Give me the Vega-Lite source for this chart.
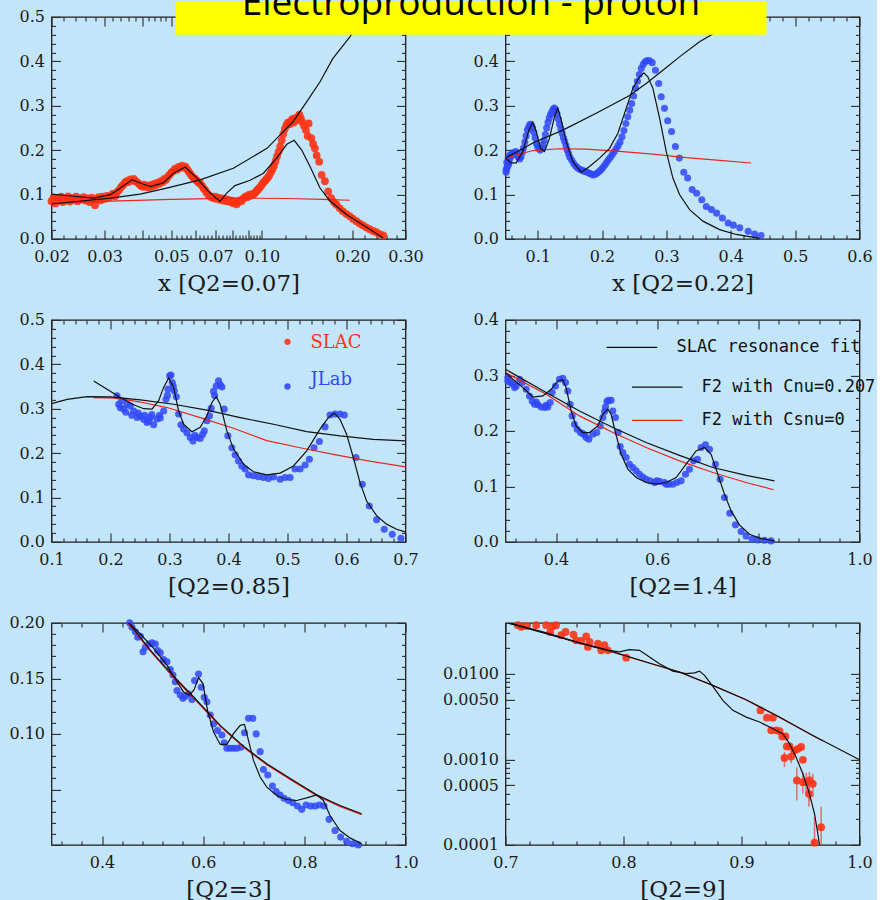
{
"$schema":"https://vega.github.io/schema/vega-lite/v6.json",
"background":"#c3e5fa",
"padding":{"left":7.5,"top":-16.1,"right":0,"bottom":0},
"config":{
 "view":{"stroke":"#1e1e1e","strokeWidth":1.3},
 "axis":{"grid":false,"domain":false,"labelFont":"DejaVu Serif","labelFontSize":16,"labelColor":"#1a1a1a","labelPadding":7,"labelFlush":false,"labelOverlap":false,"tickColor":"#2a2a2a","tickWidth":1.1,"titleFont":"DejaVu Serif","titleFontSize":23,"titleFontWeight":"normal","titleColor":"#1a1a1a","titlePadding":8}
},
"datasets":{
"a1":[{"x":0.0200,"y":0.085},{"x":0.0203,"y":0.093},{"x":0.0206,"y":0.080},{"x":0.0209,"y":0.090},{"x":0.0212,"y":0.086},{"x":0.0215,"y":0.095},{"x":0.0218,"y":0.083},{"x":0.0221,"y":0.091},{"x":0.0224,"y":0.087},{"x":0.0227,"y":0.096},{"x":0.0230,"y":0.084},{"x":0.0234,"y":0.091},{"x":0.0237,"y":0.088},{"x":0.0241,"y":0.095},{"x":0.0244,"y":0.085},{"x":0.0248,"y":0.092},{"x":0.0252,"y":0.089},{"x":0.0256,"y":0.094},{"x":0.0260,"y":0.086},{"x":0.0264,"y":0.091},{"x":0.0268,"y":0.083},{"x":0.0272,"y":0.093},{"x":0.0276,"y":0.088},{"x":0.0279,"y":0.076},{"x":0.0283,"y":0.090},{"x":0.0287,"y":0.094},{"x":0.0291,"y":0.087},{"x":0.0296,"y":0.095},{"x":0.0300,"y":0.090},{"x":0.0305,"y":0.097},{"x":0.0310,"y":0.093},{"x":0.0315,"y":0.098},{"x":0.0320,"y":0.102},{"x":0.0325,"y":0.096},{"x":0.0330,"y":0.105},{"x":0.0335,"y":0.110},{"x":0.0340,"y":0.116},{"x":0.0345,"y":0.121},{"x":0.0350,"y":0.126},{"x":0.0355,"y":0.130},{"x":0.0360,"y":0.128},{"x":0.0365,"y":0.134},{"x":0.0370,"y":0.131},{"x":0.0375,"y":0.135},{"x":0.0380,"y":0.130},{"x":0.0385,"y":0.128},{"x":0.0390,"y":0.124},{"x":0.0395,"y":0.121},{"x":0.0400,"y":0.118},{"x":0.0405,"y":0.122},{"x":0.0410,"y":0.117},{"x":0.0415,"y":0.120},{"x":0.0420,"y":0.116},{"x":0.0426,"y":0.121},{"x":0.0432,"y":0.118},{"x":0.0438,"y":0.124},{"x":0.0444,"y":0.121},{"x":0.0450,"y":0.127},{"x":0.0456,"y":0.124},{"x":0.0462,"y":0.130},{"x":0.0468,"y":0.128},{"x":0.0474,"y":0.135},{"x":0.0480,"y":0.133},{"x":0.0487,"y":0.140},{"x":0.0494,"y":0.145},{"x":0.0501,"y":0.150},{"x":0.0508,"y":0.153},{"x":0.0515,"y":0.158},{"x":0.0522,"y":0.156},{"x":0.0529,"y":0.162},{"x":0.0536,"y":0.160},{"x":0.0543,"y":0.165},{"x":0.0550,"y":0.161},{"x":0.0557,"y":0.163},{"x":0.0564,"y":0.157},{"x":0.0571,"y":0.152},{"x":0.0578,"y":0.147},{"x":0.0585,"y":0.142},{"x":0.0592,"y":0.138},{"x":0.0600,"y":0.136},{"x":0.0608,"y":0.131},{"x":0.0616,"y":0.127},{"x":0.0624,"y":0.125},{"x":0.0632,"y":0.120},{"x":0.0640,"y":0.114},{"x":0.0648,"y":0.110},{"x":0.0656,"y":0.104},{"x":0.0664,"y":0.100},{"x":0.0672,"y":0.097},{"x":0.0680,"y":0.094},{"x":0.0689,"y":0.092},{"x":0.0698,"y":0.095},{"x":0.0707,"y":0.090},{"x":0.0716,"y":0.093},{"x":0.0725,"y":0.088},{"x":0.0735,"y":0.091},{"x":0.0745,"y":0.086},{"x":0.0755,"y":0.090},{"x":0.0765,"y":0.085},{"x":0.0775,"y":0.088},{"x":0.0785,"y":0.083},{"x":0.0795,"y":0.086},{"x":0.0805,"y":0.080},{"x":0.0815,"y":0.084},{"x":0.0825,"y":0.078},{"x":0.0835,"y":0.083},{"x":0.0845,"y":0.087},{"x":0.0855,"y":0.085},{"x":0.0865,"y":0.090},{"x":0.0875,"y":0.093},{"x":0.0885,"y":0.096},{"x":0.0895,"y":0.094},{"x":0.0905,"y":0.099},{"x":0.0915,"y":0.097},{"x":0.0925,"y":0.101},{"x":0.0937,"y":0.100},{"x":0.0949,"y":0.104},{"x":0.0961,"y":0.108},{"x":0.0973,"y":0.112},{"x":0.0985,"y":0.116},{"x":0.0997,"y":0.121},{"x":0.1009,"y":0.126},{"x":0.1021,"y":0.130},{"x":0.1033,"y":0.134},{"x":0.1045,"y":0.138},{"x":0.1058,"y":0.143},{"x":0.1071,"y":0.150},{"x":0.1084,"y":0.157},{"x":0.1097,"y":0.165},{"x":0.1110,"y":0.175},{"x":0.1123,"y":0.186},{"x":0.1136,"y":0.196},{"x":0.1150,"y":0.208},{"x":0.1164,"y":0.222},{"x":0.1178,"y":0.236},{"x":0.1192,"y":0.248},{"x":0.1206,"y":0.256},{"x":0.1220,"y":0.262},{"x":0.1234,"y":0.258},{"x":0.1248,"y":0.266},{"x":0.1262,"y":0.270},{"x":0.1276,"y":0.262},{"x":0.1290,"y":0.272},{"x":0.1304,"y":0.268},{"x":0.1318,"y":0.275},{"x":0.1332,"y":0.280},{"x":0.1346,"y":0.272},{"x":0.1360,"y":0.264},{"x":0.1380,"y":0.255},{"x":0.1400,"y":0.245},{"x":0.1420,"y":0.232},{"x":0.1430,"y":0.260},{"x":0.1460,"y":0.227},{"x":0.1480,"y":0.214},{"x":0.1500,"y":0.204},{"x":0.1520,"y":0.188},{"x":0.1550,"y":0.174},{"x":0.1580,"y":0.144},{"x":0.1620,"y":0.130},{"x":0.1660,"y":0.107},{"x":0.1700,"y":0.092},{"x":0.1735,"y":0.083},{"x":0.1770,"y":0.077},{"x":0.1815,"y":0.069},{"x":0.1860,"y":0.062},{"x":0.1910,"y":0.056},{"x":0.1960,"y":0.051},{"x":0.2010,"y":0.045},{"x":0.2060,"y":0.040},{"x":0.2110,"y":0.035},{"x":0.2160,"y":0.031},{"x":0.2220,"y":0.026},{"x":0.2280,"y":0.022},{"x":0.2340,"y":0.018},{"x":0.2400,"y":0.015},{"x":0.2465,"y":0.011},{"x":0.2530,"y":0.008}],
"a1r":[{"x":0.02,"y":0.101},{"x":0.0237,"y":0.096},{"x":0.0276,"y":0.092},{"x":0.0314,"y":0.0996},{"x":0.0339,"y":0.1145},{"x":0.037,"y":0.133},{"x":0.0394,"y":0.126},{"x":0.0426,"y":0.118},{"x":0.0471,"y":0.126},{"x":0.0509,"y":0.148},{"x":0.0556,"y":0.162},{"x":0.0608,"y":0.137},{"x":0.0664,"y":0.107},{"x":0.0726,"y":0.0846},{"x":0.0764,"y":0.103},{"x":0.0814,"y":0.12},{"x":0.0914,"y":0.132},{"x":0.1012,"y":0.148},{"x":0.112,"y":0.182},{"x":0.121,"y":0.213},{"x":0.128,"y":0.222},{"x":0.1356,"y":0.2},{"x":0.1445,"y":0.163},{"x":0.156,"y":0.1145},{"x":0.168,"y":0.086},{"x":0.191,"y":0.055},{"x":0.222,"y":0.027},{"x":0.253,"y":0.002}],
"a1f":[{"x":0.02,"y":0.0786},{"x":0.0314,"y":0.092},{"x":0.0394,"y":0.101},{"x":0.0483,"y":0.1145},{"x":0.0623,"y":0.133},{"x":0.0804,"y":0.159},{"x":0.104,"y":0.204},{"x":0.127,"y":0.264},{"x":0.141,"y":0.309},{"x":0.156,"y":0.354},{"x":0.172,"y":0.406},{"x":0.196,"y":0.455},{"x":0.222,"y":0.515}],
"a1c":[{"x":0.02,"y":0.08},{"x":0.0314,"y":0.085},{"x":0.05,"y":0.089},{"x":0.08,"y":0.092},{"x":0.12,"y":0.091},{"x":0.16,"y":0.089},{"x":0.196,"y":0.087}],
"a2":[{"x":0.051,"y":0.156},{"x":0.051,"y":0.150},{"x":0.052,"y":0.172},{"x":0.0525,"y":0.160},{"x":0.053,"y":0.165},{"x":0.054,"y":0.180},{"x":0.055,"y":0.175},{"x":0.055,"y":0.168},{"x":0.056,"y":0.186},{"x":0.057,"y":0.181},{"x":0.058,"y":0.190},{"x":0.060,"y":0.188},{"x":0.062,"y":0.194},{"x":0.064,"y":0.192},{"x":0.066,"y":0.197},{"x":0.068,"y":0.190},{"x":0.070,"y":0.184},{"x":0.072,"y":0.180},{"x":0.074,"y":0.185},{"x":0.076,"y":0.195},{"x":0.078,"y":0.205},{"x":0.080,"y":0.218},{"x":0.082,"y":0.232},{"x":0.084,"y":0.245},{"x":0.086,"y":0.252},{"x":0.088,"y":0.258},{"x":0.090,"y":0.256},{"x":0.092,"y":0.250},{"x":0.094,"y":0.240},{"x":0.096,"y":0.228},{"x":0.098,"y":0.215},{"x":0.100,"y":0.208},{"x":0.102,"y":0.203},{"x":0.104,"y":0.200},{"x":0.106,"y":0.204},{"x":0.108,"y":0.212},{"x":0.110,"y":0.222},{"x":0.112,"y":0.235},{"x":0.114,"y":0.250},{"x":0.116,"y":0.262},{"x":0.118,"y":0.272},{"x":0.120,"y":0.280},{"x":0.122,"y":0.286},{"x":0.124,"y":0.292},{"x":0.126,"y":0.295},{"x":0.128,"y":0.290},{"x":0.130,"y":0.282},{"x":0.132,"y":0.270},{"x":0.134,"y":0.258},{"x":0.136,"y":0.248},{"x":0.138,"y":0.238},{"x":0.140,"y":0.228},{"x":0.142,"y":0.220},{"x":0.144,"y":0.210},{"x":0.146,"y":0.200},{"x":0.148,"y":0.192},{"x":0.150,"y":0.184},{"x":0.153,"y":0.177},{"x":0.156,"y":0.170},{"x":0.159,"y":0.164},{"x":0.162,"y":0.160},{"x":0.165,"y":0.157},{"x":0.168,"y":0.155},{"x":0.171,"y":0.153},{"x":0.174,"y":0.152},{"x":0.177,"y":0.150},{"x":0.180,"y":0.148},{"x":0.183,"y":0.146},{"x":0.186,"y":0.144},{"x":0.189,"y":0.145},{"x":0.192,"y":0.148},{"x":0.195,"y":0.151},{"x":0.198,"y":0.155},{"x":0.201,"y":0.160},{"x":0.204,"y":0.166},{"x":0.207,"y":0.172},{"x":0.210,"y":0.178},{"x":0.213,"y":0.184},{"x":0.216,"y":0.190},{"x":0.219,"y":0.196},{"x":0.222,"y":0.203},{"x":0.225,"y":0.210},{"x":0.228,"y":0.218},{"x":0.231,"y":0.230},{"x":0.234,"y":0.244},{"x":0.237,"y":0.260},{"x":0.240,"y":0.275},{"x":0.243,"y":0.290},{"x":0.246,"y":0.305},{"x":0.249,"y":0.322},{"x":0.252,"y":0.340},{"x":0.255,"y":0.355},{"x":0.258,"y":0.370},{"x":0.261,"y":0.384},{"x":0.264,"y":0.393},{"x":0.267,"y":0.399},{"x":0.270,"y":0.402},{"x":0.274,"y":0.401},{"x":0.278,"y":0.397},{"x":0.283,"y":0.380},{"x":0.288,"y":0.350},{"x":0.292,"y":0.320},{"x":0.297,"y":0.294},{"x":0.302,"y":0.266},{"x":0.308,"y":0.242},{"x":0.314,"y":0.208},{"x":0.320,"y":0.182},{"x":0.327,"y":0.150},{"x":0.333,"y":0.137},{"x":0.340,"y":0.111},{"x":0.347,"y":0.103},{"x":0.355,"y":0.088},{"x":0.362,"y":0.073},{"x":0.370,"y":0.066},{"x":0.378,"y":0.058},{"x":0.387,"y":0.047},{"x":0.396,"y":0.036},{"x":0.404,"y":0.031},{"x":0.414,"y":0.025},{"x":0.427,"y":0.017},{"x":0.437,"y":0.011},{"x":0.447,"y":0.0075}],
"a2r":[{"x":0.05,"y":0.182},{"x":0.0588,"y":0.171},{"x":0.0666,"y":0.171},{"x":0.0769,"y":0.197},{"x":0.0863,"y":0.245},{"x":0.0925,"y":0.263},{"x":0.0977,"y":0.242},{"x":0.1044,"y":0.204},{"x":0.1106,"y":0.197},{"x":0.1184,"y":0.227},{"x":0.1261,"y":0.275},{"x":0.1313,"y":0.294},{"x":0.1365,"y":0.268},{"x":0.1443,"y":0.219},{"x":0.1546,"y":0.174},{"x":0.1676,"y":0.15},{"x":0.1805,"y":0.163},{"x":0.1961,"y":0.182},{"x":0.2117,"y":0.204},{"x":0.2246,"y":0.238},{"x":0.2375,"y":0.294},{"x":0.2479,"y":0.339},{"x":0.2583,"y":0.365},{"x":0.265,"y":0.374},{"x":0.2712,"y":0.365},{"x":0.279,"y":0.339},{"x":0.2894,"y":0.272},{"x":0.2997,"y":0.197},{"x":0.3101,"y":0.137},{"x":0.3204,"y":0.1},{"x":0.336,"y":0.066},{"x":0.3567,"y":0.04},{"x":0.3826,"y":0.021},{"x":0.4085,"y":0.01},{"x":0.4447,"y":0.001}],
"a2f":[{"x":0.05,"y":0.182},{"x":0.0925,"y":0.216},{"x":0.1391,"y":0.245},{"x":0.1909,"y":0.283},{"x":0.2427,"y":0.323},{"x":0.2686,"y":0.35},{"x":0.2945,"y":0.38},{"x":0.3204,"y":0.41},{"x":0.3515,"y":0.444},{"x":0.3774,"y":0.466},{"x":0.4085,"y":0.5},{"x":0.43,"y":0.52}],
"a2c":[{"x":0.05,"y":0.182},{"x":0.0925,"y":0.199},{"x":0.1339,"y":0.203},{"x":0.1754,"y":0.202},{"x":0.2272,"y":0.197},{"x":0.279,"y":0.191},{"x":0.3308,"y":0.183},{"x":0.3826,"y":0.177},{"x":0.4318,"y":0.171}],
"ttl":[{"t":"Electroproduction - proton","x1":-0.4627,"x2":0.4555,"y1":0.46,"y2":0.5345,"tx":-0.0036,"ty":0.504}],
"a3":[{"x":0.2111,"y":0.329},{"x":0.2139,"y":0.31},{"x":0.2167,"y":0.302},{"x":0.219,"y":0.318},{"x":0.2224,"y":0.299},{"x":0.226,"y":0.292},{"x":0.228,"y":0.31},{"x":0.2337,"y":0.306},{"x":0.236,"y":0.285},{"x":0.2393,"y":0.295},{"x":0.245,"y":0.28},{"x":0.247,"y":0.29},{"x":0.2506,"y":0.283},{"x":0.2562,"y":0.276},{"x":0.258,"y":0.285},{"x":0.2619,"y":0.269},{"x":0.265,"y":0.272},{"x":0.2675,"y":0.28},{"x":0.27,"y":0.287},{"x":0.2731,"y":0.264},{"x":0.2788,"y":0.277},{"x":0.283,"y":0.285},{"x":0.2844,"y":0.279},{"x":0.2901,"y":0.295},{"x":0.294,"y":0.321},{"x":0.2965,"y":0.33},{"x":0.2974,"y":0.344},{"x":0.3002,"y":0.374},{"x":0.3025,"y":0.376},{"x":0.3047,"y":0.359},{"x":0.3065,"y":0.35},{"x":0.3081,"y":0.34},{"x":0.3115,"y":0.327},{"x":0.3154,"y":0.288},{"x":0.3194,"y":0.264},{"x":0.3239,"y":0.254},{"x":0.3295,"y":0.246},{"x":0.3352,"y":0.235},{"x":0.3397,"y":0.227},{"x":0.343,"y":0.24},{"x":0.3465,"y":0.235},{"x":0.3521,"y":0.233},{"x":0.356,"y":0.242},{"x":0.3589,"y":0.25},{"x":0.3634,"y":0.273},{"x":0.3679,"y":0.284},{"x":0.3707,"y":0.301},{"x":0.3747,"y":0.339},{"x":0.3765,"y":0.33},{"x":0.3792,"y":0.351},{"x":0.3831,"y":0.363},{"x":0.386,"y":0.354},{"x":0.3888,"y":0.349},{"x":0.3927,"y":0.299},{"x":0.3989,"y":0.239},{"x":0.4057,"y":0.212},{"x":0.4113,"y":0.196},{"x":0.417,"y":0.182},{"x":0.4226,"y":0.171},{"x":0.4282,"y":0.164},{"x":0.4339,"y":0.151},{"x":0.4423,"y":0.149},{"x":0.4508,"y":0.147},{"x":0.4593,"y":0.145},{"x":0.4677,"y":0.143},{"x":0.4762,"y":0.146},{"x":0.4875,"y":0.141},{"x":0.4959,"y":0.145},{"x":0.5044,"y":0.145},{"x":0.5128,"y":0.164},{"x":0.5213,"y":0.164},{"x":0.5298,"y":0.173},{"x":0.5371,"y":0.186},{"x":0.545,"y":0.212},{"x":0.554,"y":0.226},{"x":0.5636,"y":0.259},{"x":0.5721,"y":0.286},{"x":0.5805,"y":0.288},{"x":0.589,"y":0.288},{"x":0.5963,"y":0.286},{"x":0.6161,"y":0.19},{"x":0.6268,"y":0.13},{"x":0.6386,"y":0.081},{"x":0.651,"y":0.05},{"x":0.664,"y":0.0285},{"x":0.6775,"y":0.017},{"x":0.6922,"y":0.008}],
"a3r":[{"x":0.1716,"y":0.3626},{"x":0.1942,"y":0.344},{"x":0.2167,"y":0.325},{"x":0.2393,"y":0.309},{"x":0.2562,"y":0.3},{"x":0.2703,"y":0.299},{"x":0.2816,"y":0.318},{"x":0.2901,"y":0.348},{"x":0.2985,"y":0.369},{"x":0.307,"y":0.348},{"x":0.3154,"y":0.295},{"x":0.3239,"y":0.265},{"x":0.338,"y":0.248},{"x":0.3521,"y":0.258},{"x":0.3634,"y":0.284},{"x":0.3718,"y":0.314},{"x":0.3792,"y":0.327},{"x":0.3859,"y":0.31},{"x":0.3972,"y":0.25},{"x":0.4085,"y":0.209},{"x":0.4254,"y":0.175},{"x":0.4423,"y":0.158},{"x":0.4649,"y":0.151},{"x":0.4875,"y":0.155},{"x":0.51,"y":0.171},{"x":0.5326,"y":0.205},{"x":0.5551,"y":0.254},{"x":0.5692,"y":0.28},{"x":0.5794,"y":0.29},{"x":0.589,"y":0.276},{"x":0.6003,"y":0.242},{"x":0.6115,"y":0.19},{"x":0.6228,"y":0.134},{"x":0.6341,"y":0.092},{"x":0.651,"y":0.059},{"x":0.6679,"y":0.04},{"x":0.6849,"y":0.0285},{"x":0.699,"y":0.0225}],
"a3f":[{"x":0.1,"y":0.3116},{"x":0.1265,"y":0.321},{"x":0.1603,"y":0.327},{"x":0.1998,"y":0.3266},{"x":0.2506,"y":0.32},{"x":0.307,"y":0.31},{"x":0.3634,"y":0.2966},{"x":0.4198,"y":0.28},{"x":0.4762,"y":0.265},{"x":0.5326,"y":0.2485},{"x":0.589,"y":0.2387},{"x":0.6454,"y":0.231},{"x":0.7,"y":0.2275}],
"a3c":[{"x":0.1716,"y":0.325},{"x":0.2111,"y":0.3236},{"x":0.2506,"y":0.315},{"x":0.2957,"y":0.3026},{"x":0.3521,"y":0.28},{"x":0.4085,"y":0.256},{"x":0.4649,"y":0.228},{"x":0.5213,"y":0.212},{"x":0.5777,"y":0.197},{"x":0.6341,"y":0.183},{"x":0.7,"y":0.169}],
"leg3":[{"src":"SLAC","x":0.5,"y":0.4505,"tx":0.539,"ty":0.4475},{"src":"JLab","x":0.5,"y":0.35,"tx":0.539,"ty":0.365}],
"a4":[{"x":0.3046,"y":0.29},{"x":0.3046,"y":0.296},{"x":0.3092,"y":0.287},{"x":0.3145,"y":0.284},{"x":0.318,"y":0.278},{"x":0.3211,"y":0.281},{"x":0.3277,"y":0.293},{"x":0.333,"y":0.287},{"x":0.3409,"y":0.275},{"x":0.3474,"y":0.263},{"x":0.3527,"y":0.254},{"x":0.3573,"y":0.248},{"x":0.3606,"y":0.252},{"x":0.3639,"y":0.247},{"x":0.3705,"y":0.243},{"x":0.3771,"y":0.242},{"x":0.3804,"y":0.246},{"x":0.3837,"y":0.243},{"x":0.3883,"y":0.251},{"x":0.3923,"y":0.269},{"x":0.3989,"y":0.281},{"x":0.4068,"y":0.293},{"x":0.4133,"y":0.295},{"x":0.4186,"y":0.287},{"x":0.4232,"y":0.272},{"x":0.4278,"y":0.248},{"x":0.4318,"y":0.227},{"x":0.4364,"y":0.212},{"x":0.4417,"y":0.203},{"x":0.4483,"y":0.197},{"x":0.4533,"y":0.195},{"x":0.4562,"y":0.193},{"x":0.4595,"y":0.188},{"x":0.4648,"y":0.185},{"x":0.4727,"y":0.194},{"x":0.4806,"y":0.197},{"x":0.4872,"y":0.209},{"x":0.4924,"y":0.224},{"x":0.496,"y":0.235},{"x":0.4977,"y":0.243},{"x":0.5005,"y":0.253},{"x":0.5036,"y":0.255},{"x":0.5089,"y":0.255},{"x":0.5122,"y":0.236},{"x":0.5175,"y":0.224},{"x":0.5227,"y":0.197},{"x":0.5267,"y":0.172},{"x":0.532,"y":0.161},{"x":0.5386,"y":0.152},{"x":0.5451,"y":0.14},{"x":0.5517,"y":0.134},{"x":0.5583,"y":0.128},{"x":0.5649,"y":0.122},{"x":0.5715,"y":0.117},{"x":0.5781,"y":0.113},{"x":0.586,"y":0.11},{"x":0.5946,"y":0.107},{"x":0.599,"y":0.11},{"x":0.6045,"y":0.109},{"x":0.6143,"y":0.107},{"x":0.618,"y":0.104},{"x":0.6229,"y":0.104},{"x":0.6308,"y":0.104},{"x":0.6387,"y":0.107},{"x":0.6473,"y":0.11},{"x":0.6559,"y":0.122},{"x":0.6638,"y":0.131},{"x":0.6717,"y":0.146},{"x":0.6796,"y":0.149},{"x":0.6868,"y":0.17},{"x":0.6954,"y":0.175},{"x":0.7033,"y":0.167},{"x":0.7152,"y":0.14},{"x":0.7244,"y":0.113},{"x":0.733,"y":0.08},{"x":0.7435,"y":0.0517},{"x":0.7547,"y":0.0307},{"x":0.7659,"y":0.0186},{"x":0.7758,"y":0.0108},{"x":0.7877,"y":0.0048},{"x":0.7989,"y":0.0036},{"x":0.812,"y":0.003},{"x":0.8252,"y":0.0018}],
"a4r":[{"x":0.3,"y":0.305},{"x":0.3145,"y":0.293},{"x":0.3343,"y":0.278},{"x":0.354,"y":0.261},{"x":0.3738,"y":0.263},{"x":0.3903,"y":0.275},{"x":0.4035,"y":0.29},{"x":0.4133,"y":0.292},{"x":0.4199,"y":0.278},{"x":0.4298,"y":0.236},{"x":0.4397,"y":0.209},{"x":0.4529,"y":0.197},{"x":0.4661,"y":0.197},{"x":0.4825,"y":0.209},{"x":0.4924,"y":0.23},{"x":0.5023,"y":0.239},{"x":0.5089,"y":0.23},{"x":0.5175,"y":0.197},{"x":0.5287,"y":0.158},{"x":0.5419,"y":0.131},{"x":0.5583,"y":0.116},{"x":0.5781,"y":0.107},{"x":0.5979,"y":0.104},{"x":0.6176,"y":0.107},{"x":0.6374,"y":0.116},{"x":0.6572,"y":0.14},{"x":0.6769,"y":0.164},{"x":0.6934,"y":0.17},{"x":0.7066,"y":0.158},{"x":0.7198,"y":0.122},{"x":0.733,"y":0.086},{"x":0.7461,"y":0.0559},{"x":0.7626,"y":0.0307},{"x":0.7824,"y":0.0138},{"x":0.8055,"y":0.006},{"x":0.8318,"y":0.002}],
"a4f":[{"x":0.3,"y":0.311},{"x":0.3804,"y":0.269},{"x":0.4463,"y":0.236},{"x":0.5122,"y":0.206},{"x":0.5781,"y":0.179},{"x":0.644,"y":0.156},{"x":0.7099,"y":0.134},{"x":0.7758,"y":0.12},{"x":0.8318,"y":0.11}],
"a4c":[{"x":0.3,"y":0.305},{"x":0.3804,"y":0.266},{"x":0.4463,"y":0.227},{"x":0.5122,"y":0.197},{"x":0.5781,"y":0.17},{"x":0.644,"y":0.146},{"x":0.7099,"y":0.125},{"x":0.7758,"y":0.107},{"x":0.8305,"y":0.094}],
"leg4":[{"lab":"SLAC resonance fit","x1":0.5,"x2":0.6,"y":0.3505,"tx":0.638},{"lab":"F2 with Cnu=0.207","x1":0.55,"x2":0.65,"y":0.279,"tx":0.6876},{"lab":"F2 with Csnu=0","x1":0.55,"x2":0.65,"y":0.219,"tx":0.6876}],
"a5":[{"x":0.4546,"y":0.2},{"x":0.4592,"y":0.196},{"x":0.4658,"y":0.192},{"x":0.4704,"y":0.187},{"x":0.4757,"y":0.188},{"x":0.481,"y":0.174},{"x":0.4856,"y":0.178},{"x":0.4921,"y":0.181},{"x":0.4987,"y":0.182},{"x":0.5053,"y":0.181},{"x":0.5099,"y":0.175},{"x":0.5152,"y":0.173},{"x":0.5217,"y":0.167},{"x":0.5283,"y":0.165},{"x":0.5349,"y":0.158},{"x":0.5402,"y":0.153},{"x":0.5448,"y":0.147},{"x":0.5481,"y":0.139},{"x":0.5546,"y":0.135},{"x":0.5599,"y":0.132},{"x":0.5645,"y":0.134},{"x":0.5711,"y":0.136},{"x":0.5777,"y":0.131},{"x":0.5829,"y":0.148},{"x":0.5908,"y":0.154},{"x":0.5961,"y":0.142},{"x":0.602,"y":0.133},{"x":0.6073,"y":0.129},{"x":0.6139,"y":0.117},{"x":0.6204,"y":0.109},{"x":0.6283,"y":0.103},{"x":0.6369,"y":0.099},{"x":0.6415,"y":0.092},{"x":0.6468,"y":0.087},{"x":0.6533,"y":0.087},{"x":0.6599,"y":0.087},{"x":0.6665,"y":0.087},{"x":0.6744,"y":0.088},{"x":0.6816,"y":0.101},{"x":0.6895,"y":0.114},{"x":0.6981,"y":0.114},{"x":0.7047,"y":0.1},{"x":0.7126,"y":0.084},{"x":0.7191,"y":0.068},{"x":0.7277,"y":0.063},{"x":0.7369,"y":0.053},{"x":0.7442,"y":0.048},{"x":0.752,"y":0.045},{"x":0.7599,"y":0.042},{"x":0.7685,"y":0.04},{"x":0.7771,"y":0.038},{"x":0.7863,"y":0.035},{"x":0.7948,"y":0.032},{"x":0.8034,"y":0.036},{"x":0.8126,"y":0.035},{"x":0.8211,"y":0.035},{"x":0.8297,"y":0.036},{"x":0.8389,"y":0.035},{"x":0.8488,"y":0.023},{"x":0.8606,"y":0.013},{"x":0.8718,"y":0.007},{"x":0.8836,"y":0.0033},{"x":0.8955,"y":0.001},{"x":0.9067,"y":0.0}],
"a5r":[{"x":0.4527,"y":0.2},{"x":0.4757,"y":0.19},{"x":0.502,"y":0.177},{"x":0.5283,"y":0.162},{"x":0.5481,"y":0.1468},{"x":0.5612,"y":0.1378},{"x":0.5731,"y":0.1348},{"x":0.5823,"y":0.14},{"x":0.5908,"y":0.1507},{"x":0.5994,"y":0.1453},{"x":0.6086,"y":0.1212},{"x":0.6204,"y":0.1017},{"x":0.6336,"y":0.0905},{"x":0.6468,"y":0.0905},{"x":0.6599,"y":0.1002},{"x":0.6731,"y":0.1077},{"x":0.6816,"y":0.1086},{"x":0.6895,"y":0.0941},{"x":0.6994,"y":0.0761},{"x":0.7126,"y":0.0611},{"x":0.7257,"y":0.052},{"x":0.7455,"y":0.0445},{"x":0.7652,"y":0.0409},{"x":0.7849,"y":0.04},{"x":0.8047,"y":0.0424},{"x":0.8244,"y":0.0451},{"x":0.8376,"y":0.04},{"x":0.8507,"y":0.0265},{"x":0.8705,"y":0.0129},{"x":0.8902,"y":0.0063},{"x":0.9133,"y":0.0009}],
"a5f":[{"x":0.4527,"y":0.2},{"x":0.4954,"y":0.1754},{"x":0.5415,"y":0.1519},{"x":0.581,"y":0.1332},{"x":0.6336,"y":0.1077},{"x":0.6816,"y":0.0881},{"x":0.7257,"y":0.0731},{"x":0.7784,"y":0.058},{"x":0.8244,"y":0.0451},{"x":0.8705,"y":0.0355},{"x":0.9133,"y":0.028}],
"a5c":[{"x":0.4527,"y":0.1992},{"x":0.4954,"y":0.1746},{"x":0.5415,"y":0.1511},{"x":0.581,"y":0.1324},{"x":0.6336,"y":0.1069},{"x":0.6816,"y":0.0873},{"x":0.7257,"y":0.0723},{"x":0.7784,"y":0.0572},{"x":0.8244,"y":0.0443},{"x":0.8705,"y":0.0347},{"x":0.9133,"y":0.0272}],
"a6":[{"x":0.7105,"y":0.0372},{"x":0.7133,"y":0.0356},{"x":0.7175,"y":0.0365},{"x":0.726,"y":0.0372},{"x":0.7345,"y":0.0372},{"x":0.7379,"y":0.031},{"x":0.7401,"y":0.0362},{"x":0.7429,"y":0.0372},{"x":0.7472,"y":0.0284},{"x":0.7509,"y":0.031},{"x":0.7576,"y":0.0289},{"x":0.7599,"y":0.0248},{"x":0.7641,"y":0.0244},{"x":0.7684,"y":0.0276},{"x":0.7698,"y":0.0207},{"x":0.7712,"y":0.0237},{"x":0.7783,"y":0.0227},{"x":0.7811,"y":0.0189},{"x":0.7839,"y":0.0217},{"x":0.7867,"y":0.0189},{"x":0.8023,"y":0.0155},{"x":0.9161,"y":0.00375},{"x":0.9215,"y":0.00308},{"x":0.9266,"y":0.00308},{"x":0.9252,"y":0.00219},{"x":0.9294,"y":0.00219},{"x":0.9322,"y":0.00215},{"x":0.9345,"y":0.00186},{"x":0.9373,"y":0.00186},{"x":0.9384,"y":0.00142},{"x":0.9407,"y":0.00142},{"x":0.9364,"y":0.00104},{"x":0.9421,"y":0.00108},{"x":0.9449,"y":0.00127},{"x":0.9478,"y":0.00133},{"x":0.9506,"y":0.0014},{"x":0.952,"y":0.00099},{"x":0.9469,"y":0.000567},{"x":0.952,"y":0.000542},{"x":0.9548,"y":0.000542},{"x":0.9576,"y":0.000567},{"x":0.9605,"y":0.000519},{"x":0.9571,"y":0.000396},{"x":0.9675,"y":0.000161},{"x":0.9619,"y":0.000106}],
"a6e":[{"x":0.9364,"lo":0.000813,"hi":0.00122},{"x":0.9421,"lo":0.0009,"hi":0.0013},{"x":0.9469,"lo":0.00033,"hi":0.00081},{"x":0.952,"lo":0.0004,"hi":0.00071},{"x":0.9548,"lo":0.00042,"hi":0.0007},{"x":0.9576,"lo":0.00033,"hi":0.00071},{"x":0.9605,"lo":0.00036,"hi":0.00068},{"x":0.9571,"lo":0.00028,"hi":0.00054},{"x":0.9675,"lo":0.0001,"hi":0.00028},{"x":0.9619,"lo":0.0001,"hi":0.00021}],
"a6r":[{"x":0.7,"y":0.0402},{"x":0.7345,"y":0.0297},{"x":0.7627,"y":0.0231},{"x":0.7881,"y":0.0189},{"x":0.7966,"y":0.0181},{"x":0.8051,"y":0.0193},{"x":0.8136,"y":0.0189},{"x":0.822,"y":0.0158},{"x":0.8305,"y":0.0132},{"x":0.8418,"y":0.0108},{"x":0.8531,"y":0.0101},{"x":0.8602,"y":0.0103},{"x":0.8644,"y":0.0108},{"x":0.8687,"y":0.00964},{"x":0.8757,"y":0.00716},{"x":0.8842,"y":0.00491},{"x":0.8927,"y":0.00375},{"x":0.904,"y":0.00313},{"x":0.9153,"y":0.00274},{"x":0.9266,"y":0.00229},{"x":0.935,"y":0.002},{"x":0.9407,"y":0.00153},{"x":0.9463,"y":0.00106},{"x":0.952,"y":0.00068},{"x":0.9576,"y":0.000396},{"x":0.9619,"y":0.000231},{"x":0.9647,"y":0.000135},{"x":0.9661,"y":0.0001}],
"a6f":[{"x":0.7,"y":0.0407},{"x":0.7345,"y":0.0302},{"x":0.7627,"y":0.0231},{"x":0.791,"y":0.0181},{"x":0.8192,"y":0.0138},{"x":0.8475,"y":0.01055},{"x":0.8757,"y":0.00736},{"x":0.904,"y":0.005},{"x":0.9322,"y":0.00313},{"x":0.9605,"y":0.00191},{"x":1.0,"y":0.00099}],
"a6c":[{"x":0.7,"y":0.0405},{"x":0.7345,"y":0.03},{"x":0.7627,"y":0.023},{"x":0.791,"y":0.018},{"x":0.8192,"y":0.0137},{"x":0.8475,"y":0.0105},{"x":0.8757,"y":0.00732},{"x":0.904,"y":0.00496},{"x":0.9322,"y":0.0031},{"x":0.9689,"y":0.00164}]
},
"columns":2,
"spacing":{"row":81,"column":100},
"bounds":"flush",
"resolve":{"scale":{"color":"independent"}},
"concat":[
{"width":354,"height":222,"resolve":{"axis":{"x":"independent","y":"independent"}},
 "layer":[
  {"data":{"name":"a1"},"mark":{"type":"circle","size":60,"color":"#ff3314","opacity":0.9},
   "encoding":{"x":{"field":"x","type":"quantitative","scale":{"type":"log","domain":[0.02,0.3]},"axis":{"orient":"bottom","values":[0.02,0.03,0.04,0.05,0.06,0.07,0.08,0.09,0.1,0.2,0.3],"offset":-9,"tickSize":9,"labelPadding":10,"labelExpr":"indexof([0.02,0.03,0.05,0.07,0.1,0.2,0.3], datum.value) >= 0 ? format(datum.value, '.2f') : ''","title":"x [Q2=0.07]"}},
    "y":{"field":"y","type":"quantitative","scale":{"domain":[0,0.5]},"axis":{"orient":"left","values":[0,0.1,0.2,0.3,0.4,0.5],"offset":-9,"tickSize":9,"format":".1f","title":null}}}},
  {"data":{"name":"a1c"},"mark":{"type":"line","color":"#e8261a","strokeWidth":1.2,"clip":true},
   "encoding":{"x":{"field":"x","type":"quantitative","scale":{"type":"log","domain":[0.02,0.3]},"axis":{"orient":"top","values":[0.02,0.03,0.04,0.05,0.06,0.07,0.08,0.09,0.1,0.2,0.3],"offset":-9,"tickSize":9,"labels":false,"title":null}},
    "y":{"field":"y","type":"quantitative","scale":{"domain":[0,0.5]},"axis":{"orient":"right","values":[0,0.1,0.2,0.3,0.4,0.5],"offset":-9,"tickSize":9,"labels":false,"title":null}}}},
  {"data":{"name":"a1f"},"mark":{"type":"line","color":"#111111","strokeWidth":1.2,"clip":true},
   "encoding":{"x":{"field":"x","type":"quantitative","scale":{"type":"log","domain":[0.02,0.3]},"axis":{"orient":"bottom","values":[0.022,0.024,0.026,0.028,0.032,0.034,0.036,0.038,0.042,0.044,0.046,0.048,0.052,0.054,0.056,0.058,0.062,0.064,0.066,0.068,0.072,0.074,0.076,0.078,0.082,0.084,0.086,0.088,0.092,0.094,0.096,0.098,0.12,0.14,0.16,0.18,0.22,0.24,0.26,0.28],"offset":-4,"tickSize":4,"labels":false,"title":null}},
    "y":{"field":"y","type":"quantitative","scale":{"domain":[0,0.5]},"axis":{"orient":"left","values":[0.02,0.04,0.06,0.08,0.12,0.14,0.16,0.18,0.22,0.24,0.26,0.28,0.32,0.34,0.36,0.38,0.42,0.44,0.46,0.48],"offset":-4,"tickSize":4,"labels":false,"title":null}}}},
  {"data":{"name":"a1r"},"mark":{"type":"line","color":"#111111","strokeWidth":1.2,"clip":true},
   "encoding":{"x":{"field":"x","type":"quantitative","scale":{"type":"log","domain":[0.02,0.3]},"axis":{"orient":"top","values":[0.022,0.024,0.026,0.028,0.032,0.034,0.036,0.038,0.042,0.044,0.046,0.048,0.052,0.054,0.056,0.058,0.062,0.064,0.066,0.068,0.072,0.074,0.076,0.078,0.082,0.084,0.086,0.088,0.092,0.094,0.096,0.098,0.12,0.14,0.16,0.18,0.22,0.24,0.26,0.28],"offset":-4,"tickSize":4,"labels":false,"title":null}},
    "y":{"field":"y","type":"quantitative","scale":{"domain":[0,0.5]},"axis":{"orient":"right","values":[0.02,0.04,0.06,0.08,0.12,0.14,0.16,0.18,0.22,0.24,0.26,0.28,0.32,0.34,0.36,0.38,0.42,0.44,0.46,0.48],"offset":-4,"tickSize":4,"labels":false,"title":null}}}}
 ]},
{"width":354,"height":222,"resolve":{"axis":{"x":"independent","y":"independent"}},
 "layer":[
  {"data":{"name":"a2"},"mark":{"type":"circle","size":50,"color":"#3048f8","opacity":0.85},
   "encoding":{"x":{"field":"x","type":"quantitative","scale":{"domain":[0.05,0.6]},"axis":{"orient":"bottom","values":[0.1,0.2,0.3,0.4,0.5,0.6],"offset":-9,"tickSize":9,"labelPadding":10,"format":".1f","title":"x [Q2=0.22]"}},
    "y":{"field":"y","type":"quantitative","scale":{"domain":[0,0.5]},"axis":{"orient":"left","values":[0,0.1,0.2,0.3,0.4,0.5],"offset":-9,"tickSize":9,"format":".1f","title":null}}}},
  {"data":{"name":"a2c"},"mark":{"type":"line","color":"#e8261a","strokeWidth":1.2,"clip":true},
   "encoding":{"x":{"field":"x","type":"quantitative","scale":{"domain":[0.05,0.6]},"axis":{"orient":"top","values":[0.1,0.2,0.3,0.4,0.5,0.6],"offset":-9,"tickSize":9,"labels":false,"title":null}},
    "y":{"field":"y","type":"quantitative","scale":{"domain":[0,0.5]},"axis":{"orient":"right","values":[0,0.1,0.2,0.3,0.4,0.5],"offset":-9,"tickSize":9,"labels":false,"title":null}}}},
  {"data":{"name":"a2f"},"mark":{"type":"line","color":"#111111","strokeWidth":1.2,"clip":true},
   "encoding":{"x":{"field":"x","type":"quantitative","scale":{"domain":[0.05,0.6]},"axis":{"orient":"bottom","values":[0.06,0.08,0.12,0.14,0.16,0.18,0.22,0.24,0.26,0.28,0.32,0.34,0.36,0.38,0.42,0.44,0.46,0.48,0.52,0.54,0.56,0.58],"offset":-4,"tickSize":4,"labels":false,"title":null}},
    "y":{"field":"y","type":"quantitative","scale":{"domain":[0,0.5]},"axis":{"orient":"left","values":[0.02,0.04,0.06,0.08,0.12,0.14,0.16,0.18,0.22,0.24,0.26,0.28,0.32,0.34,0.36,0.38,0.42,0.44,0.46,0.48],"offset":-4,"tickSize":4,"labels":false,"title":null}}}},
  {"data":{"name":"a2r"},"mark":{"type":"line","color":"#111111","strokeWidth":1.2,"clip":true},
   "encoding":{"x":{"field":"x","type":"quantitative","scale":{"domain":[0.05,0.6]},"axis":{"orient":"top","values":[0.06,0.08,0.12,0.14,0.16,0.18,0.22,0.24,0.26,0.28,0.32,0.34,0.36,0.38,0.42,0.44,0.46,0.48,0.52,0.54,0.56,0.58],"offset":-4,"tickSize":4,"labels":false,"title":null}},
    "y":{"field":"y","type":"quantitative","scale":{"domain":[0,0.5]},"axis":{"orient":"right","values":[0.02,0.04,0.06,0.08,0.12,0.14,0.16,0.18,0.22,0.24,0.26,0.28,0.32,0.34,0.36,0.38,0.42,0.44,0.46,0.48],"offset":-4,"tickSize":4,"labels":false,"title":null}}}},
  {"data":{"name":"ttl"},"mark":{"type":"rect","color":"#ffff00"},
   "encoding":{"x":{"field":"x1","type":"quantitative","axis":null},"x2":{"field":"x2"},"y":{"field":"y1","type":"quantitative","axis":null},"y2":{"field":"y2"}}},
  {"data":{"name":"ttl"},"mark":{"type":"text","font":"Open Sans","fontSize":37,"align":"center","baseline":"alphabetic","color":"#000000"},
   "encoding":{"x":{"field":"tx","type":"quantitative","axis":null},"y":{"field":"ty","type":"quantitative","axis":null},"text":{"field":"t"}}}
 ]},
{"width":354,"height":222,"resolve":{"axis":{"x":"independent","y":"independent"}},
 "layer":[
  {"data":{"name":"a3"},"mark":{"type":"circle","size":50,"color":"#3048f8","opacity":0.85},
   "encoding":{"x":{"field":"x","type":"quantitative","scale":{"domain":[0.1,0.7]},"axis":{"orient":"bottom","values":[0.1,0.2,0.3,0.4,0.5,0.6,0.7],"offset":-9,"tickSize":9,"labelPadding":10,"format":".1f","title":"[Q2=0.85]"}},
    "y":{"field":"y","type":"quantitative","scale":{"domain":[0,0.5]},"axis":{"orient":"left","values":[0,0.1,0.2,0.3,0.4,0.5],"offset":-9,"tickSize":9,"format":".1f","title":null}}}},
  {"data":{"name":"a3c"},"mark":{"type":"line","color":"#e8261a","strokeWidth":1.2,"clip":true},
   "encoding":{"x":{"field":"x","type":"quantitative","scale":{"domain":[0.1,0.7]},"axis":{"orient":"top","values":[0.1,0.2,0.3,0.4,0.5,0.6,0.7],"offset":-9,"tickSize":9,"labels":false,"title":null}},
    "y":{"field":"y","type":"quantitative","scale":{"domain":[0,0.5]},"axis":{"orient":"right","values":[0,0.1,0.2,0.3,0.4,0.5],"offset":-9,"tickSize":9,"labels":false,"title":null}}}},
  {"data":{"name":"a3f"},"mark":{"type":"line","color":"#111111","strokeWidth":1.2,"clip":true},
   "encoding":{"x":{"field":"x","type":"quantitative","scale":{"domain":[0.1,0.7]},"axis":{"orient":"bottom","values":[0.12,0.14,0.16,0.18,0.22,0.24,0.26,0.28,0.32,0.34,0.36,0.38,0.42,0.44,0.46,0.48,0.52,0.54,0.56,0.58,0.62,0.64,0.66,0.68],"offset":-4,"tickSize":4,"labels":false,"title":null}},
    "y":{"field":"y","type":"quantitative","scale":{"domain":[0,0.5]},"axis":{"orient":"left","values":[0.02,0.04,0.06,0.08,0.12,0.14,0.16,0.18,0.22,0.24,0.26,0.28,0.32,0.34,0.36,0.38,0.42,0.44,0.46,0.48],"offset":-4,"tickSize":4,"labels":false,"title":null}}}},
  {"data":{"name":"a3r"},"mark":{"type":"line","color":"#111111","strokeWidth":1.2,"clip":true},
   "encoding":{"x":{"field":"x","type":"quantitative","scale":{"domain":[0.1,0.7]},"axis":{"orient":"top","values":[0.12,0.14,0.16,0.18,0.22,0.24,0.26,0.28,0.32,0.34,0.36,0.38,0.42,0.44,0.46,0.48,0.52,0.54,0.56,0.58,0.62,0.64,0.66,0.68],"offset":-4,"tickSize":4,"labels":false,"title":null}},
    "y":{"field":"y","type":"quantitative","scale":{"domain":[0,0.5]},"axis":{"orient":"right","values":[0.02,0.04,0.06,0.08,0.12,0.14,0.16,0.18,0.22,0.24,0.26,0.28,0.32,0.34,0.36,0.38,0.42,0.44,0.46,0.48],"offset":-4,"tickSize":4,"labels":false,"title":null}}}},
  {"data":{"name":"leg3"},"mark":{"type":"circle","size":40,"opacity":0.9},
   "encoding":{"x":{"field":"x","type":"quantitative","axis":null},"y":{"field":"y","type":"quantitative","axis":null},"color":{"field":"src","type":"nominal","scale":{"domain":["SLAC","JLab"],"range":["#ff3314","#3048f8"]},"legend":null}}},
  {"data":{"name":"leg3"},"mark":{"type":"text","align":"left","baseline":"middle","font":"DejaVu Serif","fontSize":18},
   "encoding":{"x":{"field":"tx","type":"quantitative","axis":null},"y":{"field":"ty","type":"quantitative","axis":null},"text":{"field":"src"},"color":{"field":"src","type":"nominal","scale":{"domain":["SLAC","JLab"],"range":["#ff3314","#3048f8"]},"legend":null}}}
 ]},
{"width":354,"height":222,"resolve":{"axis":{"x":"independent","y":"independent"}},
 "layer":[
  {"data":{"name":"a4"},"mark":{"type":"circle","size":50,"color":"#3048f8","opacity":0.85},
   "encoding":{"x":{"field":"x","type":"quantitative","scale":{"domain":[0.3,1.0]},"axis":{"orient":"bottom","values":[0.4,0.6,0.8,1.0],"offset":-9,"tickSize":9,"labelPadding":10,"format":".1f","title":"[Q2=1.4]"}},
    "y":{"field":"y","type":"quantitative","scale":{"domain":[0,0.4]},"axis":{"orient":"left","values":[0,0.1,0.2,0.3,0.4],"offset":-9,"tickSize":9,"format":".1f","title":null}}}},
  {"data":{"name":"a4c"},"mark":{"type":"line","color":"#e8261a","strokeWidth":1.2,"clip":true},
   "encoding":{"x":{"field":"x","type":"quantitative","scale":{"domain":[0.3,1.0]},"axis":{"orient":"top","values":[0.4,0.6,0.8,1.0],"offset":-9,"tickSize":9,"labels":false,"title":null}},
    "y":{"field":"y","type":"quantitative","scale":{"domain":[0,0.4]},"axis":{"orient":"right","values":[0,0.1,0.2,0.3,0.4],"offset":-9,"tickSize":9,"labels":false,"title":null}}}},
  {"data":{"name":"a4f"},"mark":{"type":"line","color":"#111111","strokeWidth":1.2,"clip":true},
   "encoding":{"x":{"field":"x","type":"quantitative","scale":{"domain":[0.3,1.0]},"axis":{"orient":"bottom","values":[0.32,0.36,0.44,0.48,0.52,0.56,0.64,0.68,0.72,0.76,0.84,0.88,0.92,0.96],"offset":-4,"tickSize":4,"labels":false,"title":null}},
    "y":{"field":"y","type":"quantitative","scale":{"domain":[0,0.4]},"axis":{"orient":"left","values":[0.02,0.04,0.06,0.08,0.12,0.14,0.16,0.18,0.22,0.24,0.26,0.28,0.32,0.34,0.36,0.38],"offset":-4,"tickSize":4,"labels":false,"title":null}}}},
  {"data":{"name":"a4r"},"mark":{"type":"line","color":"#111111","strokeWidth":1.2,"clip":true},
   "encoding":{"x":{"field":"x","type":"quantitative","scale":{"domain":[0.3,1.0]},"axis":{"orient":"top","values":[0.32,0.36,0.44,0.48,0.52,0.56,0.64,0.68,0.72,0.76,0.84,0.88,0.92,0.96],"offset":-4,"tickSize":4,"labels":false,"title":null}},
    "y":{"field":"y","type":"quantitative","scale":{"domain":[0,0.4]},"axis":{"orient":"right","values":[0.02,0.04,0.06,0.08,0.12,0.14,0.16,0.18,0.22,0.24,0.26,0.28,0.32,0.34,0.36,0.38],"offset":-4,"tickSize":4,"labels":false,"title":null}}}},
  {"data":{"name":"leg4"},"mark":{"type":"rule","strokeWidth":1.2},
   "encoding":{"x":{"field":"x1","type":"quantitative","axis":null},"x2":{"field":"x2"},"y":{"field":"y","type":"quantitative","axis":null},"color":{"field":"lab","type":"nominal","scale":{"domain":["SLAC resonance fit","F2 with Cnu=0.207","F2 with Csnu=0"],"range":["#111111","#111111","#e8261a"]},"legend":null}}},
  {"data":{"name":"leg4"},"mark":{"type":"text","align":"left","baseline":"middle","font":"DejaVu Sans Mono","fontSize":17,"color":"#111111"},
   "encoding":{"x":{"field":"tx","type":"quantitative","axis":null},"y":{"field":"y","type":"quantitative","axis":null},"text":{"field":"lab"}}}
 ]},
{"width":354,"height":222,"resolve":{"axis":{"x":"independent","y":"independent"}},
 "layer":[
  {"data":{"name":"a5"},"mark":{"type":"circle","size":50,"color":"#3048f8","opacity":0.85},
   "encoding":{"x":{"field":"x","type":"quantitative","scale":{"domain":[0.3,1.0]},"axis":{"orient":"bottom","values":[0.4,0.6,0.8,1.0],"offset":-9,"tickSize":9,"labelPadding":10,"format":".1f","title":"[Q2=3]"}},
    "y":{"field":"y","type":"quantitative","scale":{"domain":[0,0.2]},"axis":{"orient":"left","values":[0,0.05,0.1,0.15,0.2],"offset":-9,"tickSize":9,"labelExpr":"datum.value >= 0.1 ? format(datum.value, '.2f') : ''","title":null}}}},
  {"data":{"name":"a5c"},"mark":{"type":"line","color":"#e8261a","strokeWidth":1.4,"clip":true},
   "encoding":{"x":{"field":"x","type":"quantitative","scale":{"domain":[0.3,1.0]},"axis":{"orient":"top","values":[0.4,0.6,0.8,1.0],"offset":-9,"tickSize":9,"labels":false,"title":null}},
    "y":{"field":"y","type":"quantitative","scale":{"domain":[0,0.2]},"axis":{"orient":"right","values":[0,0.05,0.1,0.15,0.2],"offset":-9,"tickSize":9,"labels":false,"title":null}}}},
  {"data":{"name":"a5f"},"mark":{"type":"line","color":"#111111","strokeWidth":1.2,"clip":true},
   "encoding":{"x":{"field":"x","type":"quantitative","scale":{"domain":[0.3,1.0]},"axis":{"orient":"bottom","values":[0.32,0.36,0.44,0.48,0.52,0.56,0.64,0.68,0.72,0.76,0.84,0.88,0.92,0.96],"offset":-4,"tickSize":4,"labels":false,"title":null}},
    "y":{"field":"y","type":"quantitative","scale":{"domain":[0,0.2]},"axis":{"orient":"left","values":[0.01,0.02,0.03,0.04,0.06,0.07,0.08,0.09,0.11,0.12,0.13,0.14,0.16,0.17,0.18,0.19],"offset":-4,"tickSize":4,"labels":false,"title":null}}}},
  {"data":{"name":"a5r"},"mark":{"type":"line","color":"#111111","strokeWidth":1.2,"clip":true},
   "encoding":{"x":{"field":"x","type":"quantitative","scale":{"domain":[0.3,1.0]},"axis":{"orient":"top","values":[0.32,0.36,0.44,0.48,0.52,0.56,0.64,0.68,0.72,0.76,0.84,0.88,0.92,0.96],"offset":-4,"tickSize":4,"labels":false,"title":null}},
    "y":{"field":"y","type":"quantitative","scale":{"domain":[0,0.2]},"axis":{"orient":"right","values":[0.01,0.02,0.03,0.04,0.06,0.07,0.08,0.09,0.11,0.12,0.13,0.14,0.16,0.17,0.18,0.19],"offset":-4,"tickSize":4,"labels":false,"title":null}}}}
 ]},
{"width":354,"height":222,"resolve":{"axis":{"x":"independent","y":"independent"}},
 "layer":[
  {"data":{"name":"a6e"},"mark":{"type":"rule","color":"#e04a3a","strokeWidth":1.5,"opacity":0.75},
   "encoding":{"x":{"field":"x","type":"quantitative","scale":{"domain":[0.7,1.0]},"axis":null},"y":{"field":"lo","type":"quantitative","scale":{"type":"log","domain":[0.0001,0.0396]},"axis":null},"y2":{"field":"hi"}}},
  {"data":{"name":"a6"},"mark":{"type":"circle","size":60,"color":"#ff3314","opacity":0.9},
   "encoding":{"x":{"field":"x","type":"quantitative","scale":{"domain":[0.7,1.0]},"axis":{"orient":"bottom","values":[0.7,0.8,0.9,1.0],"offset":-9,"tickSize":9,"labelPadding":10,"format":".1f","title":"[Q2=9]"}},
    "y":{"field":"y","type":"quantitative","scale":{"type":"log","domain":[0.0001,0.0396]},"axis":{"orient":"left","values":[0.0001,0.0005,0.001,0.005,0.01],"offset":-9,"tickSize":9,"format":".4f","title":null}}}},
  {"data":{"name":"a6c"},"mark":{"type":"line","color":"#e8261a","strokeWidth":1.2,"clip":true},
   "encoding":{"x":{"field":"x","type":"quantitative","scale":{"domain":[0.7,1.0]},"axis":{"orient":"top","values":[0.7,0.8,0.9,1.0],"offset":-9,"tickSize":9,"labels":false,"title":null}},
    "y":{"field":"y","type":"quantitative","scale":{"type":"log","domain":[0.0001,0.0396]},"axis":{"orient":"right","values":[0.0001,0.0005,0.001,0.005,0.01],"offset":-9,"tickSize":9,"labels":false,"title":null}}}},
  {"data":{"name":"a6f"},"mark":{"type":"line","color":"#111111","strokeWidth":1.2,"clip":true},
   "encoding":{"x":{"field":"x","type":"quantitative","scale":{"domain":[0.7,1.0]},"axis":{"orient":"bottom","values":[0.72,0.74,0.76,0.78,0.82,0.84,0.86,0.88,0.92,0.94,0.96,0.98],"offset":-4,"tickSize":4,"labels":false,"title":null}},
    "y":{"field":"y","type":"quantitative","scale":{"type":"log","domain":[0.0001,0.0396]},"axis":{"orient":"left","values":[0.0002,0.0003,0.0004,0.0006,0.0007,0.0008,0.0009,0.002,0.003,0.004,0.006,0.007,0.008,0.009,0.02,0.03],"offset":-4,"tickSize":4,"labels":false,"title":null}}}},
  {"data":{"name":"a6r"},"mark":{"type":"line","color":"#111111","strokeWidth":1.2,"clip":true},
   "encoding":{"x":{"field":"x","type":"quantitative","scale":{"domain":[0.7,1.0]},"axis":{"orient":"top","values":[0.72,0.74,0.76,0.78,0.82,0.84,0.86,0.88,0.92,0.94,0.96,0.98],"offset":-4,"tickSize":4,"labels":false,"title":null}},
    "y":{"field":"y","type":"quantitative","scale":{"type":"log","domain":[0.0001,0.0396]},"axis":{"orient":"right","values":[0.0002,0.0003,0.0004,0.0006,0.0007,0.0008,0.0009,0.002,0.003,0.004,0.006,0.007,0.008,0.009,0.02,0.03],"offset":-4,"tickSize":4,"labels":false,"title":null}}}}
 ]}
]
}
